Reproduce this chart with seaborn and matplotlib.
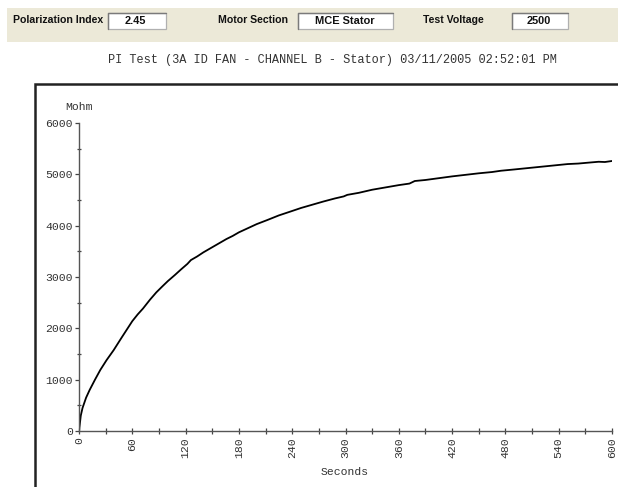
import matplotlib
matplotlib.use("Agg")
import matplotlib.pyplot as plt
import matplotlib.patches as mpatches
from matplotlib.ticker import MultipleLocator
import seaborn as sns
import pandas as pd

# ---- data ----
seconds = [0, 2, 4, 8, 12, 18, 24, 31, 39, 48, 57, 60, 66, 72, 80, 87, 94, 100, 108,
           115, 122, 126, 133, 140, 150, 158, 166, 173, 180, 190, 200, 212, 225, 238,
           250, 262, 275, 288, 298, 302, 315, 330, 345, 360, 372, 378, 390, 405, 420,
           435, 450, 465, 475, 490, 510, 530, 550, 562, 575, 585, 592, 600]
mohm = [0, 300, 450, 650, 800, 1000, 1190, 1380, 1575, 1820, 2060, 2140, 2270, 2385,
        2560, 2700, 2820, 2920, 3040, 3150, 3255, 3330, 3400, 3480, 3580, 3660, 3740,
        3800, 3870, 3950, 4030, 4110, 4200, 4275, 4345, 4405, 4470, 4530, 4570, 4600,
        4640, 4700, 4745, 4790, 4820, 4870, 4890, 4925, 4960, 4990, 5020, 5045, 5070,
        5095, 5130, 5165, 5200, 5210, 5230, 5245, 5240, 5260]

x_ticks = list(range(0, 601, 60))
y_ticks = list(range(0, 6001, 1000))

title_text = "PI Test (3A ID FAN - CHANNEL B - Stator) 03/11/2005 02:52:01 PM"
header_labels = ["Polarization Index", "Motor Section", "Test Voltage"]
header_values = ["2.45", "MCE Stator", "2500"]

df = pd.DataFrame({"Seconds": seconds, "Mohm": mohm})

sns.set_style("white")
plt.rcParams["font.family"] = ["Liberation Mono", "DejaVu Sans Mono"]

W, H = 618, 487
fig = plt.figure(figsize=(W / 100, H / 100), dpi=100)
fig.patch.set_facecolor("white")

def fx(px):
    return px / W

def fy(py):
    return 1 - py / H

# header band
fig.patches.append(mpatches.Rectangle((fx(7), fy(42)), 1 - fx(7), (42 - 8) / H,
                                      transform=fig.transFigure, facecolor="#ECE9D8",
                                      edgecolor="none", zorder=0))
label_x = [13, 218, 423]
box_x = [(108, 166), (298, 393), (512, 568)]
value_x = [125, 315, 527]
for lab, lx, (b0, b1), val, vx in zip(header_labels, label_x, box_x, header_values, value_x):
    fig.text(fx(lx), fy(20), lab, ha="left", va="center", fontsize=7.6,
             fontweight="bold", family=["Liberation Sans", "DejaVu Sans"], color="#111111")
    fig.patches.append(mpatches.Rectangle((fx(b0), fy(29)), (b1 - b0) / W, 16 / H,
                                          transform=fig.transFigure, facecolor="white",
                                          edgecolor="#b0b0b0", linewidth=0.9, zorder=1))
    # sunken look: darker top and left edges
    fig.lines.append(plt.Line2D([fx(b0), fx(b0), fx(b1)], [fy(29), fy(13), fy(13)],
                                transform=fig.transFigure, color="#7a7a7a",
                                linewidth=1.0, zorder=2))
    fig.text(fx(vx), fy(21.5), val, ha="left", va="center", fontsize=7.9,
             fontweight="bold", family=["Liberation Sans", "DejaVu Sans"], color="#111111",
             zorder=3)

# title
fig.text(fx(332), fy(60), title_text, ha="center", va="center", fontsize=8.6,
         color="#333333")

# outer frame
fig.patches.append(mpatches.Rectangle((fx(35), fy(600)), 1.2, (600 - 84) / H,
                                      transform=fig.transFigure, facecolor="none",
                                      edgecolor="#222222", linewidth=1.8, zorder=2))

ax = fig.add_axes([fx(79), fy(431), (612 - 79) / W, (431 - 123) / H])
ax.set_facecolor("none")
sns.lineplot(data=df, x="Seconds", y="Mohm", ax=ax, color="black", linewidth=1.3)

ax.set_xlim(0, 600)
ax.set_ylim(0, 6000)
ax.set_xticks(x_ticks)
ax.set_yticks(y_ticks)
ax.xaxis.set_minor_locator(MultipleLocator(30))
ax.yaxis.set_minor_locator(MultipleLocator(500))
ax.set_xticklabels([str(v) for v in x_ticks], rotation=90)
ax.set_yticklabels([str(v) for v in y_ticks])

for s in ["top", "right"]:
    ax.spines[s].set_visible(False)
for s in ["left", "bottom"]:
    ax.spines[s].set_color("#555555")
    ax.spines[s].set_linewidth(1.0)

ax.tick_params(axis="x", which="both", direction="inout", length=4.5, width=0.9,
               color="#444444", labelsize=8.2, labelcolor="#333333", pad=2, bottom=True)
ax.tick_params(axis="y", which="major", direction="out", length=3, width=0.9,
               color="#444444", labelsize=8.2, labelcolor="#333333", pad=1.5, left=True)
ax.tick_params(axis="y", which="minor", direction="inout", length=3.5, width=0.9,
               color="#444444", left=True)

ax.set_xlabel("")
ax.set_ylabel("")
fig.text(fx(345), fy(472), "Seconds", ha="center", va="center", fontsize=8.2,
         color="#333333")
fig.text(fx(79), fy(107), "Mohm", ha="center", va="center", fontsize=8.2,
         color="#333333")

fig.savefig("out.png", dpi=100)
